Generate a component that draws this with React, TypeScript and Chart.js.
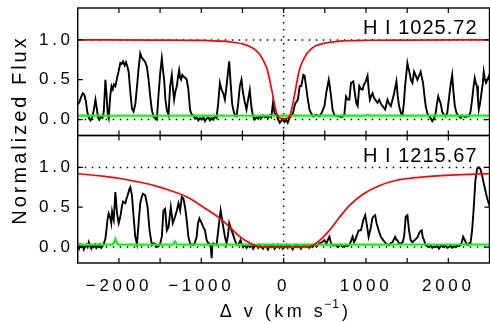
import React, { useEffect, useRef } from "react";
import { Chart, registerables } from "chart.js";

Chart.register(...registerables);

// ---------- data ----------
const panelLabels = ["H I 1025.72", "H I 1215.67"];
const xTickValues = [-2000, -1000, 0, 1000, 2000];
const xTickLabels = ["\u22122000", "\u22121000", "0", "1000", "2000"];
const yTickValues = [0, 0.5, 1.0];
const yTickLabels = ["0.0", "0.5", "1.0"];
const refLevels = [0, 1];

// Top panel (H I 1025.72) observed flux
const topVel = [-2500,-2480,-2460,-2440,-2420,-2400,-2385,-2366,-2345,-2325,-2305,-2285,-2270,-2255,-2240,-2220,-2200,-2184,-2164,-2150,-2135,-2124,-2105,-2090,-2075,-2060,-2043,-2023,-2005,-1983,-1965,-1950,-1930,-1915,-1902,-1882,-1862,-1842,-1822,-1800,-1781,-1760,-1741,-1725,-1701,-1680,-1660,-1640,-1620,-1600,-1580,-1560,-1539,-1520,-1499,-1479,-1465,-1451,-1435,-1418,-1398,-1378,-1358,-1345,-1330,-1315,-1297,-1280,-1269,-1255,-1245,-1230,-1217,-1200,-1177,-1157,-1136,-1115,-1096,-1075,-1056,-1035,-1015,-995,-975,-955,-935,-915,-895,-875,-855,-835,-814,-795,-774,-755,-733,-713,-698,-685,-661,-641,-625,-612,-592,-572,-552,-532,-512,-492,-472,-451,-431,-411,-391,-371,-351,-330,-310,-290,-270,-250,-230,-210,-190,-170,-150,-129,-110,-89,-70,-48,-30,-10,10,30,50,72,90,113,140,173,195,214,240,254,275,294,315,334,360,395,415,435,465,496,520,548,560,576,595,616,640,677,705,737,758,778,798,818,846,870,885,899,919,940,959,975,991,1019,1035,1048,1065,1080,1095,1112,1140,1161,1180,1201,1233,1261,1280,1302,1322,1342,1370,1385,1402,1425,1443,1460,1475,1503,1515,1531,1545,1564,1584,1605,1624,1645,1664,1680,1693,1710,1725,1745,1765,1785,1805,1825,1846,1862,1878,1892,1906,1925,1946,1966,1987,2000,2015,2030,2047,2062,2079,2100,2128,2150,2170,2188,2210,2230,2249,2270,2289,2305,2321,2335,2349,2360,2370,2385,2402,2418,2430,2445,2458,2475,2490,2500];
const topFlux = [0.19,0.22,0.28,0.33,0.31,0.22,0.1,0.02,-0.01,0.03,0.12,0.25,0.15,0.03,0.0,0.04,0.02,0.1,0.5,0.3,0.06,0.02,0.3,0.42,0.38,0.44,0.42,0.52,0.6,0.71,0.7,0.73,0.68,0.72,0.68,0.6,0.35,0.14,0.1,0.2,0.41,0.65,0.83,0.78,0.75,0.72,0.66,0.5,0.29,0.12,0.04,0.02,0.0,0.3,0.58,0.77,0.62,0.5,0.25,0.12,0.06,0.42,0.56,0.4,0.25,0.35,0.42,0.55,0.62,0.52,0.5,0.56,0.54,0.53,0.5,0.38,0.12,0.06,0.05,0.01,0.03,-0.01,0.02,0.0,0.03,-0.02,0.01,0.03,-0.01,0.02,0.0,0.04,0.02,0.2,0.46,0.38,0.33,0.25,0.38,0.5,0.73,0.42,0.2,0.125,0.05,0.04,0.2,0.42,0.5,0.33,0.22,0.125,0.25,0.37,0.16,0.04,0.0,0.03,0.01,0.04,0.02,0.05,0.03,0.04,0.02,0.05,0.03,0.21,0.08,0.06,0.01,-0.04,-0.02,0.01,-0.03,0.0,-0.04,0.02,0.04,0.08,0.2,0.25,0.42,0.42,0.56,0.55,0.4,0.25,0.12,0.08,0.04,0.06,0.05,0.04,0.09,0.17,0.35,0.5,0.42,0.29,0.12,0.06,0.04,0.04,0.03,0.06,0.29,0.25,0.25,0.46,0.48,0.29,0.2,0.17,0.42,0.38,0.375,0.44,0.46,0.55,0.35,0.25,0.3,0.33,0.28,0.25,0.21,0.25,0.2,0.17,0.125,0.25,0.2,0.17,0.25,0.33,0.48,0.3,0.17,0.08,0.06,0.2,0.42,0.71,0.65,0.58,0.5,0.46,0.6,0.55,0.5,0.55,0.6,0.52,0.46,0.3,0.17,0.08,0.04,0.02,-0.02,0.01,0.08,0.2,0.29,0.24,0.21,0.1,0.06,0.04,0.08,0.2,0.33,0.45,0.56,0.35,0.17,0.08,0.04,0.02,0.05,0.04,0.03,0.05,0.04,0.1,0.25,0.4,0.52,0.45,0.42,0.25,0.125,0.2,0.33,0.45,0.6,0.5,0.46,0.5,0.54,0.5];

// Top panel model profile
const topModelVel = [-2500,-1500,-1000,-800,-650,-500,-400,-350,-300,-250,-200,-170,-140,-110,-85,-60,-30,0,30,60,85,110,140,170,200,250,300,350,400,500,650,800,1000,1500,2500];
const topModelFlux = [1.0,0.998,0.993,0.985,0.975,0.95,0.91,0.88,0.83,0.75,0.63,0.5,0.35,0.19,0.08,0.03,0.015,0.01,0.015,0.03,0.08,0.19,0.35,0.52,0.65,0.77,0.85,0.9,0.93,0.96,0.98,0.99,0.995,0.998,1.0];

// Top panel error
const topErrVel = [-2500,-1500,-1000,-500,0,500,1000,1020,1050,1500,2000,2500];
const topErrFlux = [0.05,0.048,0.05,0.048,0.05,0.049,0.05,0.062,0.05,0.049,0.05,0.05];

// Bottom panel (H I 1215.67) observed flux
const botVel = [-2500,-2485,-2470,-2455,-2440,-2425,-2410,-2395,-2380,-2366,-2350,-2335,-2320,-2305,-2290,-2275,-2260,-2245,-2230,-2215,-2200,-2184,-2165,-2152,-2138,-2124,-2104,-2093,-2083,-2073,-2063,-2043,-2023,-2003,-1983,-1965,-1951,-1922,-1910,-1894,-1875,-1862,-1842,-1822,-1802,-1781,-1761,-1741,-1725,-1709,-1680,-1652,-1628,-1600,-1580,-1560,-1540,-1519,-1500,-1479,-1459,-1439,-1418,-1398,-1370,-1346,-1318,-1297,-1277,-1257,-1237,-1217,-1197,-1177,-1157,-1136,-1115,-1096,-1076,-1056,-1040,-1023,-995,-975,-955,-935,-915,-902,-885,-874,-865,-854,-834,-814,-794,-765,-741,-713,-693,-675,-661,-632,-612,-592,-572,-552,-524,-510,-492,-470,-450,-430,-410,-390,-370,-350,-330,-310,-290,-270,-250,-230,-210,-190,-170,-150,-130,-110,-90,-70,-50,-30,-10,10,30,50,70,90,110,130,150,170,190,210,230,250,270,290,310,330,350,375,400,435,465,496,520,540,556,576,600,637,660,690,717,740,770,798,820,838,855,870,890,911,939,955,967,991,1007,1032,1060,1075,1088,1112,1128,1153,1181,1209,1241,1260,1282,1300,1322,1340,1354,1370,1382,1400,1422,1445,1463,1483,1503,1523,1543,1564,1585,1604,1625,1644,1660,1677,1690,1705,1725,1745,1765,1785,1805,1826,1846,1866,1886,1906,1926,1946,1966,1987,2007,2027,2047,2067,2087,2107,2128,2148,2165,2180,2195,2208,2225,2241,2255,2269,2289,2309,2329,2349,2370,2390,2410,2430,2450,2470,2490,2500];
const botFlux = [0.01,-0.02,0.03,0.0,0.02,-0.03,0.01,0.03,0.0,0.06,0.01,-0.02,0.02,0.0,0.03,-0.01,0.02,0.0,0.03,-0.01,0.01,0.04,0.1,0.21,0.35,0.42,0.36,0.3,0.44,0.38,0.34,0.69,0.42,0.3,0.38,0.5,0.57,0.55,0.6,0.65,0.72,0.75,0.65,0.38,0.13,0.04,0.3,0.55,0.62,0.67,0.65,0.5,0.21,0.025,0.05,0.04,0.0,0.01,0.04,0.13,0.46,0.48,0.21,0.25,0.5,0.3,0.38,0.46,0.55,0.46,0.63,0.61,0.5,0.34,0.13,0.046,0.03,0.025,0.06,0.13,0.3,0.36,0.3,0.25,0.21,0.087,0.05,0.046,0.0,-0.14,0.02,0.046,0.03,0.025,0.21,0.46,0.3,0.13,0.046,0.15,0.3,0.21,0.15,0.087,0.03,0.025,0.087,0.04,0.0,0.03,-0.01,0.02,0.0,0.03,-0.02,0.01,0.02,-0.01,0.03,0.0,-0.02,0.02,0.01,-0.03,0.02,0.0,0.03,-0.02,0.01,0.03,-0.01,0.02,-0.02,0.01,0.03,-0.01,0.02,0.0,-0.03,0.01,0.03,0.0,0.02,-0.02,0.01,0.03,0.0,0.02,-0.01,0.02,0.0,0.03,0.01,0.046,0.06,0.087,0.04,0.1,0.13,0.046,0.02,0.025,0.0,0.03,0.0,0.02,0.01,0.025,0.08,0.13,0.06,0.087,0.15,0.21,0.21,0.28,0.34,0.4,0.3,0.13,0.25,0.35,0.38,0.4,0.3,0.21,0.13,0.087,0.046,0.03,0.025,0.05,0.06,0.1,0.13,0.09,0.087,0.05,0.046,0.06,0.13,0.38,0.4,0.21,0.087,0.06,0.08,0.1,0.12,0.17,0.2,0.21,0.12,0.087,0.025,0.01,0.0,0.02,-0.01,0.01,0.0,0.02,-0.02,0.01,0.025,0.0,0.02,-0.01,0.0,0.02,-0.01,0.01,0.0,0.02,0.01,0.025,0.06,0.13,0.1,0.067,0.03,0.025,0.05,0.046,0.21,0.5,0.84,0.98,1.0,0.98,0.9,0.8,0.71,0.62,0.55,0.52];

// Bottom panel model profile
const botModelVel = [-2500,-2200,-1983,-1800,-1580,-1378,-1177,-975,-774,-653,-532,-411,-290,-100,100,300,350,435,556,677,798,959,1161,1362,1644,1966,2329,2500];
const botModelFlux = [0.92,0.89,0.86,0.825,0.775,0.71,0.63,0.5,0.36,0.25,0.13,0.05,0.005,0.0,0.0,0.005,0.02,0.08,0.21,0.37,0.52,0.66,0.77,0.835,0.875,0.9,0.915,0.92];

// Bottom panel error
const botErrVel = [-2500,-2080,-2060,-2043,-2025,-2005,-1500,-1345,-1318,-1292,-1000,0,1000,2000,2500];
const botErrFlux = [0.03,0.03,0.05,0.1,0.05,0.03,0.03,0.03,0.07,0.03,0.03,0.03,0.03,0.032,0.03];

// ---------- helpers ----------
const pts = (v: number[], f: number[]) => v.map((x, i) => ({ x, y: f[i] }));
const FONT = "'Liberation Sans', Arial, Helvetica, sans-serif";

export default function App() {
  const ref = useRef<HTMLCanvasElement>(null);

  useEffect(() => {
    document.body.style.margin = "0";
    const canvas = ref.current!;

    const framePlugin = {
      id: "idlFrame",
      beforeDraw(chart: any) {
        chart.ctx.letterSpacing = "3.7px";
      },
      beforeDatasetsDraw(chart: any) {
        chart.ctx.letterSpacing = "0px";
      },
      afterDraw(chart: any) {
        const ctx = chart.ctx;
        const xs = chart.scales.x;
        const { left, right, top, bottom } = chart.chartArea;
        ctx.save();
        ctx.letterSpacing = "0px";
        ctx.strokeStyle = "#000";
        ctx.fillStyle = "#000";
        ["yTop", "yBot"].forEach((id, k) => {
          const ys = chart.scales[id];
          ctx.lineWidth = 1.4;
          ctx.strokeRect(left, ys.top, right - left, ys.bottom - ys.top);
          ctx.lineWidth = 1.2;
          ctx.beginPath();
          for (const t of xs.ticks) {
            if (t.value <= xs.min || t.value >= xs.max) continue;
            const px = xs.getPixelForValue(t.value);
            ctx.moveTo(px, ys.top);
            ctx.lineTo(px, ys.top + 5);
            ctx.moveTo(px, ys.bottom);
            ctx.lineTo(px, ys.bottom - 5);
          }
          for (const t of ys.ticks) {
            if (t.value <= ys.min || t.value >= ys.max) continue;
            const py = ys.getPixelForValue(t.value);
            ctx.moveTo(left, py);
            ctx.lineTo(left + 5, py);
            ctx.moveTo(right, py);
            ctx.lineTo(right - 5, py);
          }
          ctx.stroke();
          // panel label
          ctx.font = `20px ${FONT}`;
          ctx.letterSpacing = "1px";
          ctx.textAlign = "right";
          ctx.textBaseline = "alphabetic";
          ctx.fillText(panelLabels[k], right - 12, ys.top + 26);
          ctx.letterSpacing = "0px";
        });

        // y title
        ctx.save();
        ctx.translate(26, (top + bottom) / 2 - 5.5);
        ctx.rotate(-Math.PI / 2);
        ctx.font = `20px ${FONT}`;
        ctx.letterSpacing = "3px";
        ctx.textAlign = "center";
        ctx.textBaseline = "alphabetic";
        ctx.fillText("Normalized Flux", 0, 0);
        ctx.restore();

        // x title with superscript
        ctx.textAlign = "left";
        ctx.textBaseline = "alphabetic";
        const main = "\u0394 v (km s";
        const sup = "\u22121";
        const close = ")";
        ctx.font = `18px ${FONT}`;
        ctx.letterSpacing = "3.5px";
        const w1 = ctx.measureText(main).width;
        const w3 = ctx.measureText(close).width;
        ctx.font = `12px ${FONT}`;
        ctx.letterSpacing = "1px";
        const w2 = ctx.measureText(sup).width;
        const total = w1 + w2 + w3;
        const cx = (left + right) / 2;
        const x0 = cx - total / 2 + 2;
        const base = 317;
        ctx.font = `18px ${FONT}`;
        ctx.letterSpacing = "3.5px";
        ctx.fillText(main, x0, base);
        ctx.font = `12px ${FONT}`;
        ctx.letterSpacing = "1px";
        ctx.fillText(sup, x0 + w1 - 2, base - 9);
        ctx.font = `18px ${FONT}`;
        ctx.letterSpacing = "3.5px";
        ctx.fillText(close, x0 + w1 + w2, base);
        ctx.restore();
      },
    };

    const line = (data: any, yAxisID: string, color: string, width: number, extra: any = {}) => ({
      data,
      yAxisID,
      borderColor: color,
      borderWidth: width,
      pointRadius: 0,
      fill: false,
      tension: 0,
      ...extra,
    });
    const dotted = { borderDash: [1.5, 5.5], borderCapStyle: "butt" };

    const yScale = (weight: number) => ({
      type: "linear",
      position: "left",
      stack: "panels",
      stackWeight: 1,
      weight,
      min: -0.2,
      max: 1.4,
      grid: { display: false, drawTicks: false },
      border: { display: false },
      ticks: {
        stepSize: 0.25,
        includeBounds: false,
        padding: 4,
        color: "#000",
        font: { family: FONT, size: 17 },
        callback: (v: number) => {
          const i = yTickValues.findIndex((t) => Math.abs(t - v) < 1e-6);
          return i >= 0 ? yTickLabels[i] : "";
        },
      },
      afterFit: (s: any) => {
        s.width = 77.75;
        s.paddingTop = 0;
        s.paddingBottom = 0;
      },
    });

    const chart = new Chart(canvas, {
      type: "line",
      data: {
        datasets: [
          line(pts(topModelVel, topModelFlux), "yTop", "#ff0000", 1.7, { cubicInterpolationMode: "monotone" }),
          line(pts(botModelVel, botModelFlux), "yBot", "#ff0000", 1.7, { cubicInterpolationMode: "monotone" }),
          line(pts(topErrVel, topErrFlux), "yTop", "#00ff00", 2.2),
          line(pts(botErrVel, botErrFlux), "yBot", "#00ff00", 2.2),
          line(pts(topVel, topFlux), "yTop", "#000000", 1.9),
          line(pts(botVel, botFlux), "yBot", "#000000", 1.9),
          ...refLevels.map((lv) => line([{ x: -2500, y: lv }, { x: 2500, y: lv }], "yTop", "#000", 1.5, dotted)),
          ...refLevels.map((lv) => line([{ x: -2500, y: lv }, { x: 2500, y: lv }], "yBot", "#000", 1.5, dotted)),
          line([{ x: 0, y: -0.2 }, { x: 0, y: 1.4 }], "yTop", "#000", 1.5, dotted),
          line([{ x: 0, y: -0.2 }, { x: 0, y: 1.4 }], "yBot", "#000", 1.5, dotted),
        ],
      },
      options: {
        animation: false,
        responsive: false,
        devicePixelRatio: 1,
        events: [],
        layout: { padding: { top: 8, right: 0.5, left: 0, bottom: 0 } },
        plugins: { legend: { display: false }, tooltip: { enabled: false }, title: { display: false } },
        scales: {
          x: {
            type: "linear",
            position: "bottom",
            min: -2500,
            max: 2500,
            grid: { display: false, drawTicks: false },
            border: { display: false },
            ticks: {
              stepSize: 500,
              includeBounds: false,
              autoSkip: false,
              maxRotation: 0,
              minRotation: 0,
              padding: 13,
              color: "#000",
              font: { family: FONT, size: 17 },
              callback: (v: number) => {
                const i = xTickValues.findIndex((t) => Math.abs(t - v) < 1e-6);
                return i >= 0 ? xTickLabels[i] : "";
              },
            },
            afterFit: (s: any) => {
              s.height = 60;
              s.paddingLeft = 0;
              s.paddingRight = 0;
            },
          },
          yTop: yScale(2),
          yBot: yScale(1),
        },
      } as any,
      plugins: [framePlugin],
    });

    return () => chart.destroy();
  }, []);

  return (
    <div style={{ width: 490, height: 323, background: "#fff" }}>
      <canvas ref={ref} width={490} height={323} style={{ display: "block" }} />
    </div>
  );
}
